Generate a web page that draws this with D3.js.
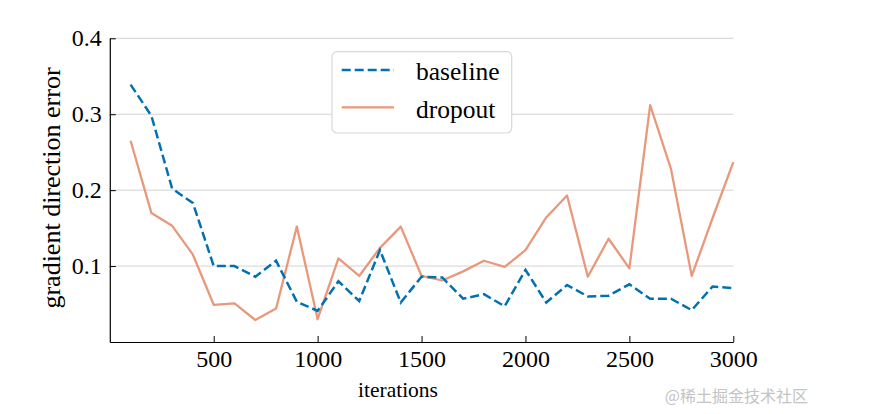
<!DOCTYPE html>
<html>
<head>
<meta charset="utf-8">
<script src="https://cdn.jsdelivr.net/npm/d3@7"></script>
<style>
  html, body { margin: 0; padding: 0; background: #ffffff; }
  svg { display: block; }
</style>
</head>
<body>
<svg id="chart" width="879" height="414"></svg>
<script>
// ---- data ----
const iterations = [100,200,300,400,500,600,700,800,900,1000,1100,1200,1300,1400,1500,1600,1700,1800,1900,2000,2100,2200,2300,2400,2500,2600,2700,2800,2900,3000];
const baseline = [0.339,0.298,0.202,0.183,0.100,0.100,0.086,0.107,0.053,0.041,0.080,0.054,0.121,0.052,0.086,0.085,0.057,0.063,0.047,0.095,0.052,0.075,0.060,0.061,0.076,0.057,0.057,0.042,0.073,0.071];
const dropout  = [0.265,0.170,0.153,0.115,0.049,0.051,0.029,0.044,0.152,0.030,0.110,0.087,0.124,0.152,0.087,0.081,0.093,0.107,0.099,0.121,0.164,0.193,0.086,0.136,0.097,0.312,0.228,0.087,0.163,0.237];
const seriesNames = ["baseline", "dropout"];
const xTicks = [500,1000,1500,2000,2500,3000];
const yTicks = [0.1,0.2,0.3,0.4];
const xLabel = "iterations";
const yLabel = "gradient direction error";
const watermark = "@稀土掘金技术社区";

// ---- layout ----
const svg = d3.select("#chart");
const L = 109.8, R = 733.3, T = 38.3, B = 342;
const serif = "'Liberation Serif','Times New Roman',serif";
const blue = "#0072b2", salmon = "#e8997b";

const x = d3.scaleLinear().domain([0, 3000]).range([L, R]);
const y = d3.scaleLinear().domain([0, 0.4]).range([B, T]);

// grid
svg.append("g").selectAll("line").data(yTicks).join("line")
  .attr("x1", L).attr("x2", R)
  .attr("y1", d => y(d)).attr("y2", d => y(d))
  .attr("stroke", "#d3d3d3").attr("stroke-width", 1);

// axes
const yAxis = d3.axisLeft(y).tickValues(yTicks).tickSizeInner(-6).tickSizeOuter(0).tickPadding(8)
  .tickFormat(d3.format(".1f"));
const xAxis = d3.axisBottom(x).tickValues(xTicks).tickSizeInner(-6).tickSizeOuter(0).tickPadding(8)
  .tickFormat(d3.format("d"));

const gy = svg.append("g").attr("transform", `translate(${L},0)`).call(yAxis);
const gx = svg.append("g").attr("transform", `translate(0,${B})`).call(xAxis);
[gx, gy].forEach(g => {
  g.attr("font-family", null).attr("font-size", null);
  g.select(".domain").attr("stroke", "#000").attr("stroke-width", 1.2);
  g.selectAll(".tick line").attr("stroke", "#000").attr("stroke-width", 1);
  g.selectAll(".tick text").attr("fill", "#000").style("font-family", serif).style("font-size", "24px");
});

// lines
const line = vals => d3.line().x((d, i) => x(iterations[i])).y(d => y(d))(vals);
svg.append("path").attr("d", line(dropout))
  .attr("fill", "none").attr("stroke", salmon).attr("stroke-width", 2.3).attr("stroke-linejoin", "round");
svg.append("path").attr("d", line(baseline))
  .attr("fill", "none").attr("stroke", blue).attr("stroke-width", 2.5)
  .attr("stroke-dasharray", "9,4");

// axis labels
svg.append("text").attr("x", 398).attr("y", 397).attr("text-anchor", "middle")
  .style("font-family", serif).style("font-size", "21.5px").attr("fill", "#000").text(xLabel);
svg.append("text").attr("transform", "translate(60,188) rotate(-90)").attr("text-anchor", "middle")
  .style("font-family", serif).style("font-size", "26px").attr("fill", "#000").text(yLabel);

// legend
const lg = svg.append("g");
lg.append("rect").attr("x", 332).attr("y", 51.7).attr("width", 179.7).attr("height", 81.3)
  .attr("rx", 5).attr("fill", "#fff").attr("stroke", "#d8d8d8").attr("stroke-width", 1.2);
const legendItems = [
  {name: seriesNames[0], color: blue, dash: "9,4", w: 2.5, ly: 70, ty: 80},
  {name: seriesNames[1], color: salmon, dash: null, w: 2.3, ly: 107.3, ty: 117.7}
];
legendItems.forEach(it => {
  lg.append("line").attr("x1", 341.7).attr("x2", 394).attr("y1", it.ly).attr("y2", it.ly)
    .attr("stroke", it.color).attr("stroke-width", it.w).attr("stroke-dasharray", it.dash);
  lg.append("text").attr("x", 416).attr("y", it.ty).style("font-family", serif)
    .style("font-size", "25.5px").attr("fill", "#000").text(it.name);
});

// watermark
svg.append("text").attr("x", 808).attr("y", 402).attr("text-anchor", "end")
  .style("font-family", "'Noto Sans CJK SC', sans-serif").style("font-size", "16px")
  .attr("fill", "#c4c4c4").text(watermark);
</script>
</body>
</html>
